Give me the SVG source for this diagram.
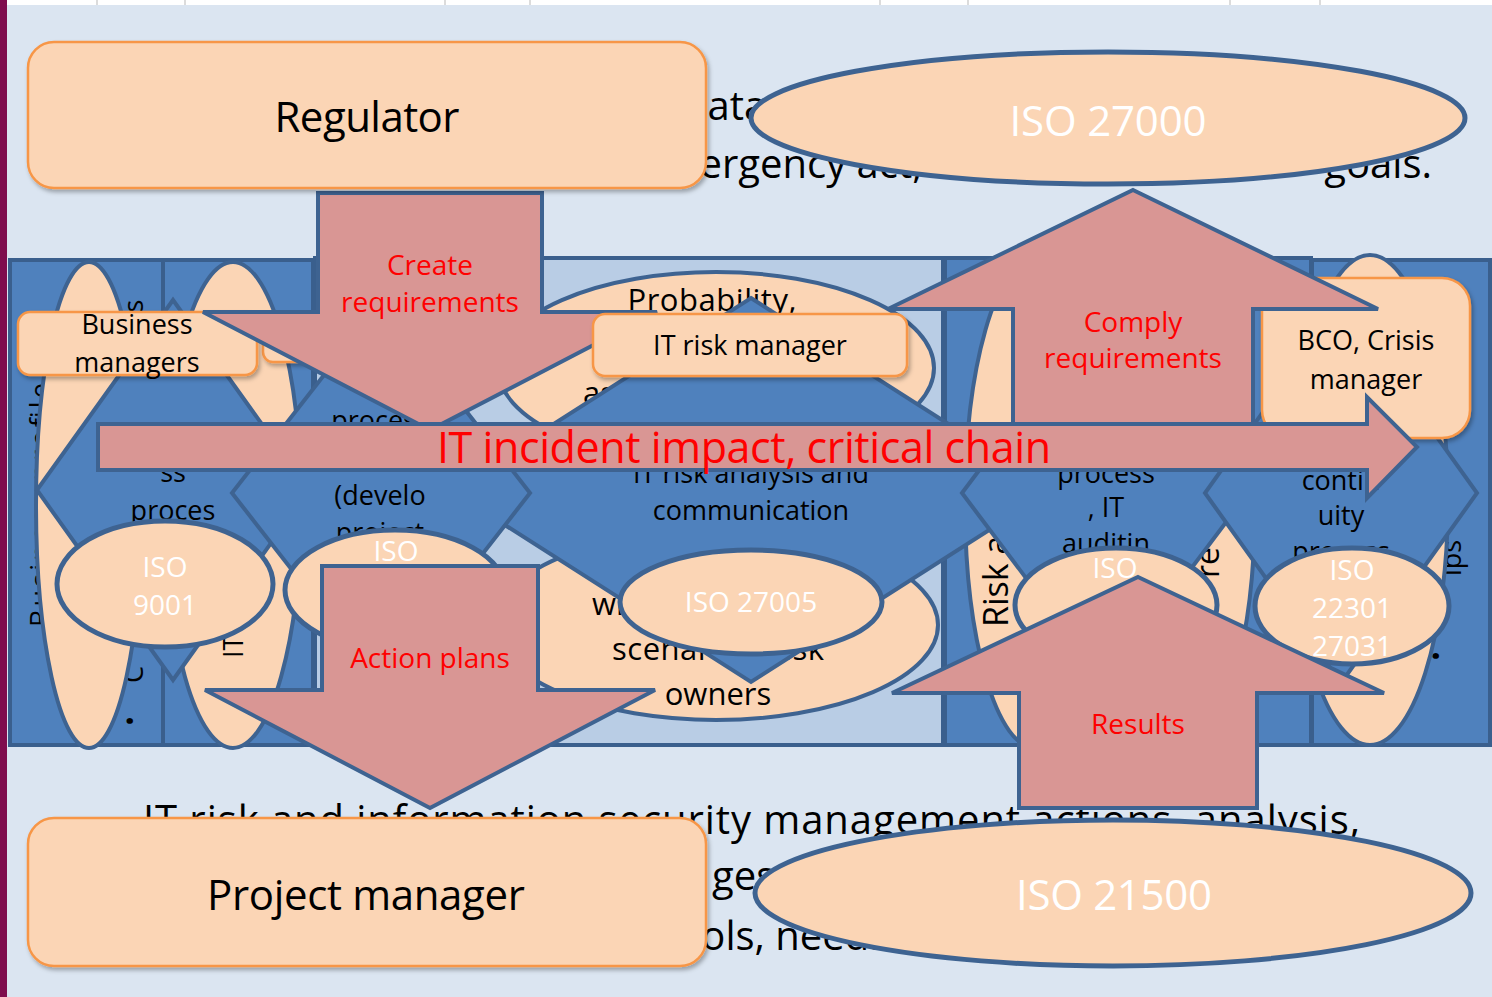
<svg xmlns="http://www.w3.org/2000/svg" width="1492" height="997" viewBox="0 0 1492 997">
<defs>
<filter id="sh" x="-10%" y="-10%" width="125%" height="140%"><feDropShadow dx="2" dy="3" stdDeviation="2" flood-color="#000" flood-opacity="0.3"/></filter>
<style>
.bg{fill:#DBE5F1}
.col{fill:#4F81BD;stroke:#3A5F8D;stroke-width:4}
.coll{fill:#B9CDE5;stroke:#3A5F8D;stroke-width:4}
.pe{fill:#FBD5B5;stroke:#3E6391;stroke-width:4}
.iso{fill:#FBD5B5;stroke:#3E6391;stroke-width:5}
.dia{fill:#4F81BD;stroke:#3E6391;stroke-width:4}
.arr{fill:#D99694;stroke:#3E6391;stroke-width:4}
.box{fill:#FBD5B5;stroke:#F79646;stroke-width:2.5;filter:url(#sh)}
text{font-family:"Open Sans","Noto Sans","Liberation Sans",sans-serif}
.k{fill:#000}
.r{fill:#FF0000}
.w{fill:#FFFFFF}
.m{text-anchor:middle}
.s27{font-size:27px}
.s28{font-size:28px}
.s31{font-size:31px}
.s42{font-size:42px}
</style>
</defs>
<rect class="bg" width="1492" height="997"/>
<rect x="7" y="0" width="1485" height="5" fill="#FFFFFF"/>
<g stroke="#D0D0D0" stroke-width="1.5">
<line x1="97" y1="0" x2="97" y2="5"/><line x1="185" y1="0" x2="185" y2="5"/><line x1="445" y1="0" x2="445" y2="5"/><line x1="530" y1="0" x2="530" y2="5"/><line x1="880" y1="0" x2="880" y2="5"/><line x1="968" y1="0" x2="968" y2="5"/><line x1="1230" y1="0" x2="1230" y2="5"/><line x1="1320" y1="0" x2="1320" y2="5"/>
</g>
<rect x="0" y="0" width="7" height="997" fill="#7F0D4E"/>

<g id="background-text" class="k" font-size="40">
<text x="683" y="120">data</text>
<text x="640" y="178">emergency act,</text>
<text x="1432" y="178" text-anchor="end">goals.</text>
<text x="143" y="834" textLength="1217" lengthAdjust="spacing">IT risk and information security management actions, analysis,</text>
<text x="712" y="890">ges</text>
<text x="663" y="950">tools, needs</text>
</g>

<g id="columns">
<rect class="col" x="10" y="260" width="153" height="485"/>
<rect class="col" x="163" y="260" width="150" height="485"/>
<rect class="coll" x="315" y="258" width="628" height="487"/>
<rect class="col" x="945" y="258" width="366" height="487"/>
<rect class="col" x="1312" y="260" width="178" height="485"/>
</g>

<g id="column-text-under" class="k s27">
<text transform="translate(50,627) rotate(-90)" textLength="244" lengthAdjust="spacing">Business profile</text>
<text transform="translate(143,683) rotate(-90)">C</text>
<text transform="translate(143,322) rotate(-90)">ts</text>
<text transform="translate(140,726) rotate(-90)">•</text>
<text transform="translate(1461,576) rotate(-90)">ips</text>
<text transform="translate(1446,661) rotate(-90)">•</text>
</g>

<g id="tall-ellipses">
<ellipse class="pe" cx="89" cy="505" rx="53" ry="243"/>
<ellipse class="pe" cx="233" cy="505" rx="68" ry="243"/>
<ellipse class="pe" cx="1035" cy="503" rx="70" ry="245"/>
<ellipse class="pe" cx="1185" cy="503" rx="70" ry="245"/>
<ellipse class="pe" cx="1370" cy="500" rx="78" ry="245"/>
</g>

<g id="column-text-over" class="k">
<text class="s27" transform="translate(243,658) rotate(-90)">IT</text>
<text font-size="34" transform="translate(1008,627) rotate(-90)">Risk a</text>
<text font-size="32" transform="translate(1219,578) rotate(-90)">re</text>
</g>

<g id="risk-ellipses">
<ellipse class="pe" cx="716" cy="368" rx="218" ry="96"/>
<ellipse class="pe" cx="716" cy="625" rx="222" ry="95"/>
<g class="k s31">
<text class="m" x="712" y="311" textLength="169" lengthAdjust="spacing">Probability,</text>
<text x="583" y="404">as</text>
<text x="592" y="615">with</text>
<text x="612" y="660" textLength="212" lengthAdjust="spacing">scenarios, risk</text>
<text class="m" x="718" y="705">owners</text>
</g>
</g>

<g id="process-it-risk">
<polygon class="dia" points="751,298 1052,490 751,682 450,490"/>
<text class="k s27 m" x="751" y="483">IT risk analysis and</text>
<text class="k s27 m" x="751" y="520">communication</text>
</g>
<g id="process-business">
<polygon class="dia" points="173,300 309,490 173,680 37,490"/>
<text class="k s27 m" x="173" y="482">ss</text>
<text class="k s27 m" x="173" y="520">proces</text>
</g>
<g id="process-development">
<polygon class="dia" points="381,302 530,493 381,684 232,493"/>
<text class="k s27 m" x="380" y="430">process</text>
<text class="k s27 m" x="380" y="505">(develo</text>
<text class="k s27 m" x="380" y="542">project</text>
</g>
<g id="process-audit">
<polygon class="dia" points="1105,303 1248,493 1105,683 962,493"/>
<text class="k s27 m" x="1106" y="483">process</text>
<text class="k s27 m" x="1106" y="517">, IT</text>
<text class="k s27 m" x="1106" y="553">auditin</text>
</g>
<g id="process-continuity">
<polygon class="dia" points="1341,303 1477,493 1341,683 1205,493"/>
<text class="k s27 m" x="1341" y="490">contin</text>
<text class="k s27 m" x="1341" y="525">uity</text>
<text class="k s27 m" x="1341" y="561">process</text>
</g>

<g id="iso-9001">
<ellipse class="iso" cx="165" cy="584" rx="108" ry="63"/>
<text class="w s28 m" x="165" y="577">ISO</text>
<text class="w s28 m" x="165" y="615">9001</text>
</g>
<g id="iso-dev">
<ellipse class="iso" cx="395" cy="590" rx="110" ry="60"/>
<text class="w s28 m" x="396" y="561">ISO</text>
</g>
<g id="iso-27005">
<ellipse class="iso" cx="751" cy="602" rx="131" ry="52"/>
<text class="w s28 m" x="751" y="612">ISO 27005</text>
</g>
<g id="iso-audit">
<ellipse class="iso" cx="1116" cy="605" rx="101" ry="57"/>
<text class="w s28 m" x="1115" y="578">ISO</text>
</g>
<g id="iso-22301">
<ellipse class="iso" cx="1352" cy="606" rx="97" ry="58"/>
<text class="w s28 m" x="1352" y="580">ISO</text>
<text class="w s28 m" x="1352" y="618">22301</text>
<text class="w s28 m" x="1352" y="656">27031</text>
</g>

<g id="business-managers">
<rect class="box" x="263" y="316" width="150" height="46" rx="10"/>
<rect class="box" x="18" y="312" width="239" height="63" rx="12"/>
<text class="k s27 m" x="137" y="334">Business</text>
<text class="k s27 m" x="137" y="372">managers</text>
</g>
<g id="bco-crisis-manager">
<rect class="box" x="1262" y="278" width="208" height="160" rx="28"/>
<text class="k s27 m" x="1366" y="350">BCO, Crisis</text>
<text class="k s27 m" x="1366" y="389">manager</text>
</g>

<g id="connectors">
<g id="arrow-create">
<polygon class="arr" points="318,193 542,193 542,312 657,312 430,430 203,312 318,312"/>
<text class="r s28 m" x="430" y="275">Create</text>
<text class="r s28 m" x="430" y="312">requirements</text>
</g>
<g id="arrow-comply">
<polygon class="arr" points="1133,190 1378,309 1253,309 1253,430 1013,430 1013,309 888,309"/>
<text class="r s28 m" x="1133" y="332">Comply</text>
<text class="r s28 m" x="1133" y="368">requirements</text>
</g>
<g id="arrow-action">
<polygon class="arr" points="322,566 538,566 538,690 655,690 430,808 205,690 322,690"/>
<text class="r s28 m" x="430" y="668">Action plans</text>
</g>
<g id="arrow-results">
<polygon class="arr" points="1138,577 1384,693 1257,693 1257,808 1019,808 1019,693 892,693"/>
<text class="r s28 m" x="1138" y="734">Results</text>
</g>
<g id="arrow-incident">
<polygon class="arr" points="98,424 1367,424 1367,397 1417,447 1367,498 1367,470 98,470"/>
<text class="r m" font-size="43" x="744" y="463" textLength="614" lengthAdjust="spacing">IT incident impact, critical chain</text>
</g>
</g>

<g id="it-risk-manager">
<rect class="box" x="593" y="314" width="314" height="62" rx="12"/>
<text class="k s27 m" x="750" y="355">IT risk manager</text>
</g>

<g id="regulator">
<rect class="box" x="28" y="42" width="678" height="146" rx="26"/>
<text class="k s42 m" x="367" y="132" textLength="185" lengthAdjust="spacing">Regulator</text>
</g>
<g id="project-manager">
<rect class="box" x="28" y="818" width="678" height="148" rx="26"/>
<text class="k s42 m" x="366" y="910" textLength="318" lengthAdjust="spacing">Project manager</text>
</g>
<g id="iso-27000">
<ellipse class="iso" cx="1108" cy="118" rx="357" ry="66"/>
<text class="w s42 m" x="1108" y="136" textLength="197" lengthAdjust="spacing">ISO 27000</text>
</g>
<g id="iso-21500">
<ellipse class="iso" cx="1113" cy="893" rx="358" ry="73"/>
<text class="w s42 m" x="1114" y="910" textLength="196" lengthAdjust="spacing">ISO 21500</text>
</g>
</svg>
